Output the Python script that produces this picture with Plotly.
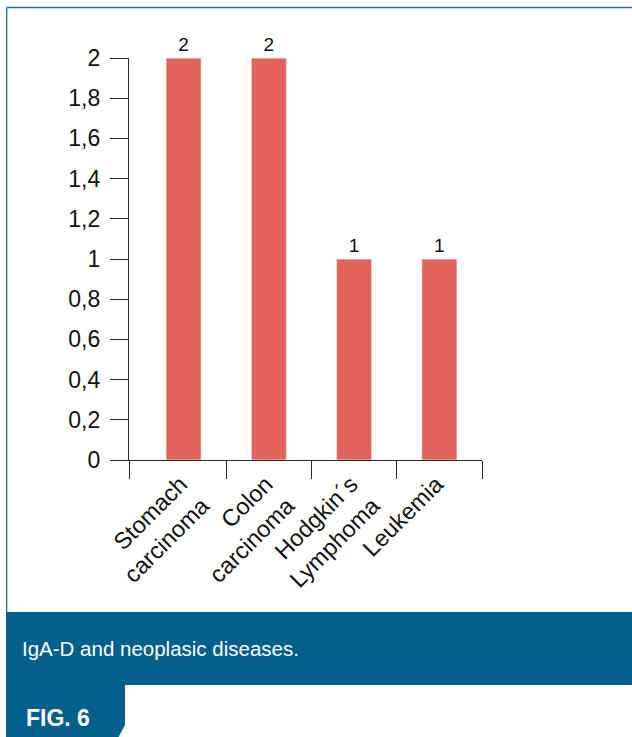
import plotly.graph_objects as go

# ---- data ----
categories = ["Stomach<br>carcinoma", "Colon<br>carcinoma", "Hodgkin´s<br>Lymphoma", "Leukemia"]
counts = [2, 2, 1, 1]
y_ticks = [0, 0.2, 0.4, 0.6, 0.8, 1, 1.2, 1.4, 1.6, 1.8, 2]
caption = "IgA-D and neoplasic diseases."
fig_label = "FIG. 6"

# ---- layout geometry (pixels) ----
FW, FH = 632, 737
L, T, R_edge, B_edge = 129, 58, 482.5, 460
W, H = R_edge - L, B_edge - T

def px(xp):
    return (xp - L) / W

def py(yp):
    return (B_edge - yp) / H

BAR = "#E2635A"
BAND = "#03608A"
BORDER = "#2A7393"
AXC = "#2a2a2a"
FONT = "Liberation Sans, Arial, Helvetica, sans-serif"

n = len(categories)
x_lo = -0.64
x_hi = n - 0.5
boundaries = [x_lo] + [i + 0.5 for i in range(n)]

fig = go.Figure()
fig.add_trace(go.Bar(
    x=categories, y=counts, marker_color=BAR, width=0.41,
    text=[str(v) for v in counts], textposition="outside",
    textfont=dict(size=19, color="#111", family=FONT),
    cliponaxis=False, showlegend=False, hoverinfo="skip",
))
fig.add_trace(go.Bar(
    x=list(range(n)), y=counts, xaxis="x2", marker_color="rgba(0,0,0,0)",
    showlegend=False, hoverinfo="skip",
))

shapes = []
# outer border
shapes.append(dict(type="line", xref="paper", yref="paper",
                   x0=px(6.5), x1=px(FW + 5), y0=py(7.5), y1=py(7.5),
                   line=dict(color=BORDER, width=1.6)))
shapes.append(dict(type="line", xref="paper", yref="paper",
                   x0=px(6.5), x1=px(6.5), y0=py(7.5), y1=py(FH + 5),
                   line=dict(color=BORDER, width=1.4)))
# caption band
shapes.append(dict(type="rect", xref="paper", yref="paper",
                   x0=px(6), x1=px(FW + 5), y0=py(612), y1=py(685),
                   fillcolor=BAND, line=dict(width=0)))
# FIG tab with chamfer
pts = [(6, 684), (125, 684), (125, 725), (118, 738), (6, 738)]
path = "M " + " L ".join(f"{px(a)},{py(b)}" for a, b in pts) + " Z"
shapes.append(dict(type="path", xref="paper", yref="paper", path=path,
                   fillcolor=BAND, line=dict(width=0)))

annotations = [
    dict(text=caption, xref="paper", yref="paper", x=px(20), y=py(648),
         xanchor="left", yanchor="middle", showarrow=False,
         font=dict(family=FONT, size=20.5, color="white")),
    dict(text="<b>" + fig_label + "</b>", xref="paper", yref="paper", x=px(24), y=py(718),
         xanchor="left", yanchor="middle", showarrow=False,
         font=dict(family=FONT, size=23, color="white")),
]

fig.update_layout(
    width=FW, height=FH,
    margin=dict(l=L, r=FW - R_edge, t=T, b=FH - B_edge, pad=0),
    paper_bgcolor="white", plot_bgcolor="white",
    separators=",.",
    font=dict(family=FONT, color="#111"),
    bargap=0.5,
    xaxis=dict(type="category", range=[x_lo, x_hi], showline=True, linecolor=AXC,
               linewidth=1.3, ticks="", tickangle=-45, showgrid=False, zeroline=False,
               ticklabelshift=-3,
               tickfont=dict(size=23.5, family=FONT, color="#111"), fixedrange=True),
    xaxis2=dict(overlaying="x", range=[x_lo, x_hi], tickvals=boundaries,
                showticklabels=False, ticks="outside", ticklen=18, tickwidth=1.3,
                tickcolor=AXC, showline=False, showgrid=False, zeroline=False,
                anchor="y", side="bottom"),
    yaxis=dict(range=[0, 2], tickvals=y_ticks, ticks="outside", ticklen=18,
               tickwidth=1.3, tickcolor=AXC, showline=True, linecolor=AXC, linewidth=1.3,
               showgrid=False, zeroline=False, ticklabelstandoff=5,
               tickfont=dict(size=23, family=FONT, color="#111")),
    shapes=shapes,
    annotations=annotations,
)

fig.write_html("out.html", config={"displayModeBar": False},
               post_script="document.body.style.margin='0';document.body.style.overflow='hidden';")
